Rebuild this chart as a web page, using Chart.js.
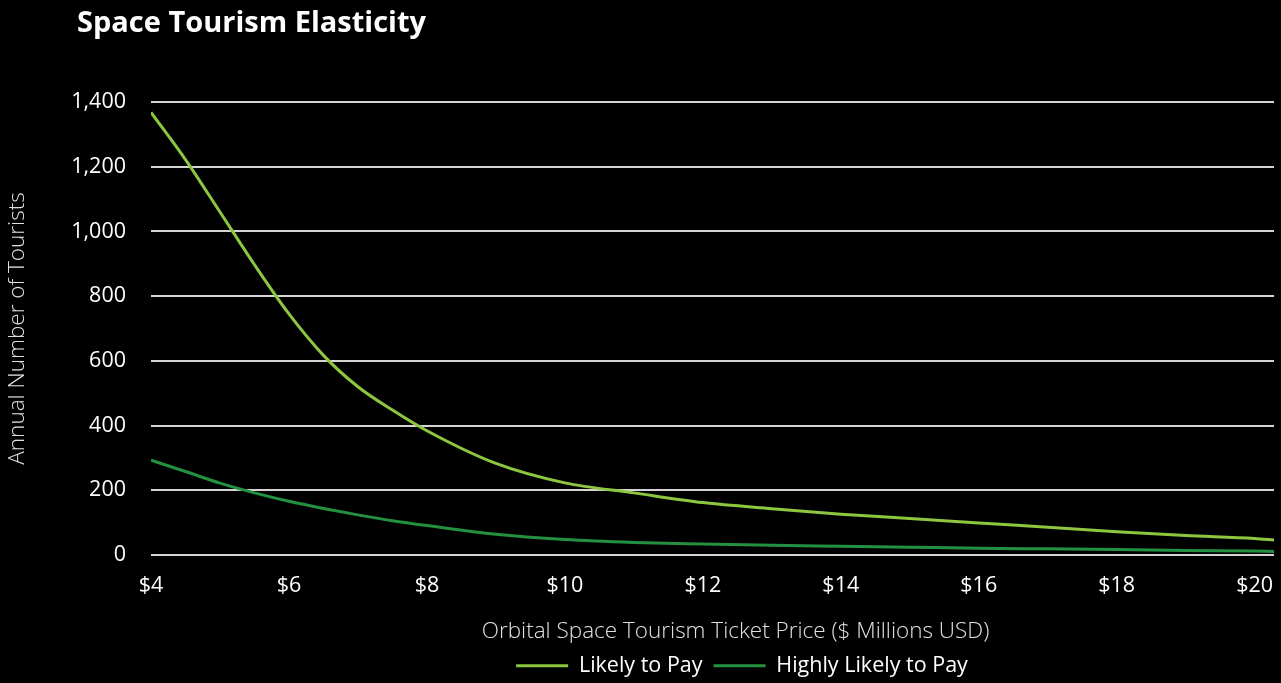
<!DOCTYPE html>
<html><head><meta charset="utf-8">
<script src="https://cdn.jsdelivr.net/npm/chart.js@4.4.1/dist/chart.umd.min.js"></script>
<style>
html,body{margin:0;padding:0;background:#000;}
#wrap{position:relative;width:1281px;height:683px;overflow:hidden;background:#000;}
#title{position:absolute;left:77px;top:1px;font-family:'Open Sans';font-weight:700;font-size:29px;line-height:40px;color:#fff;white-space:nowrap;}
canvas{position:absolute;left:0;top:0;}
</style></head><body>
<div id="wrap"><canvas id="c" width="1281" height="683"></canvas><div id="title">Space Tourism Elasticity</div></div>
<script>
const prices = [4, 4.5, 5, 5.5, 6, 6.5, 7, 7.5, 8, 9, 10, 11, 12, 13, 14, 15, 16, 17, 18, 19, 20, 20.28];
const likelyToPay = [1368, 1222, 1060, 897, 745, 617, 520, 448, 384, 283, 223, 192, 162, 143, 126, 113, 99, 86, 72, 60, 51, 46];
const highlyLikelyToPay = [293, 258, 222, 192, 166, 144, 124, 106, 91, 64, 48, 39, 34, 30, 27, 24, 21, 19, 17, 14, 12, 11];
const xTickValues = [4, 6, 8, 10, 12, 14, 16, 18, 20];
const yTickValues = [0, 200, 400, 600, 800, 1000, 1200, 1400];
const seriesNames = ['Likely to Pay', 'Highly Likely to Pay'];
const xTitle = 'Orbital Space Tourism Ticket Price ($ Millions USD)';
const yTitle = 'Annual Number of Tourists';

const colLight = '#8dc63f';
const colDark = '#23913f';

const tweaks = {
  id: 'tweaks',
  afterLayout(chart) {
    const lg = chart.legend;
    if (lg) {
      const shift = 105;
      lg.left += shift; lg.right += shift;
      const h = lg.height;
      lg.top = 644; lg.bottom = 644 + h;
    }
  },
  afterDraw(chart) {
    const ctx = chart.ctx, ca = chart.chartArea;
    ctx.save();
    ctx.font = '300 22.5px "Open Sans"';
    ctx.fillStyle = '#e0e0e0';
    ctx.textAlign = 'center';
    ctx.textBaseline = 'middle';
    ctx.fillText(xTitle, (ca.left + ca.right) / 2 + 23, 632);
    ctx.restore();
  }
};

new Chart(document.getElementById('c'), {
  type: 'line',
  data: {
    datasets: [
      { label: seriesNames[0], data: prices.map((p, i) => ({x: p, y: likelyToPay[i]})),
        borderColor: colLight, backgroundColor: colLight, borderWidth: 3, pointRadius: 0,
        cubicInterpolationMode: 'monotone', fill: false },
      { label: seriesNames[1], data: prices.map((p, i) => ({x: p, y: highlyLikelyToPay[i]})),
        borderColor: colDark, backgroundColor: colDark, borderWidth: 3, pointRadius: 0,
        cubicInterpolationMode: 'monotone', fill: false }
    ]
  },
  options: {
    responsive: false,
    animation: false,
    layout: { padding: { top: 102, right: 7, left: 0, bottom: 0 } },
    plugins: {
      title: { display: false },
      tooltip: { enabled: false },
      legend: {
        position: 'bottom',
        labels: {
          color: '#ffffff',
          font: { family: 'Open Sans', size: 21.5 },
          boxWidth: 52, boxHeight: 3, padding: 11,
          generateLabels(chart) {
            return Chart.defaults.plugins.legend.labels.generateLabels(chart).map(l => Object.assign(l, {lineWidth: 0}));
          }
        }
      }
    },
    scales: {
      x: {
        type: 'linear', min: 4, max: 20.28,
        afterBuildTicks(s) { s.ticks = xTickValues.map(v => ({value: v})); },
        afterFit(s) {
          s.height = 128 - (s.chart.legend ? s.chart.legend.height : 0);
          s.paddingLeft = 0; s.paddingRight = 0;
        },
        grid: { display: false, drawTicks: false },
        border: { display: false },
        ticks: { color: '#ffffff', font: { family: 'Open Sans', size: 21.5 }, padding: 18, maxRotation: 0,
                 callback: v => '$' + v },
        title: { display: false }
      },
      y: {
        min: 0, max: 1400,
        afterBuildTicks(s) { s.ticks = yTickValues.map(v => ({value: v})); },
        afterFit(s) { s.width = 151; s.paddingTop = 0; s.paddingBottom = 0; },
        grid: { color: '#d4d4d4', lineWidth: 2, drawTicks: false },
        border: { display: false },
        ticks: { color: '#ffffff', font: { family: 'Open Sans', size: 21.5 }, padding: 25,
                 callback: v => v.toLocaleString('en-US') },
        title: { display: true, text: yTitle, color: '#e0e0e0',
                 font: { family: 'Open Sans', size: 22.5, weight: 300 }, padding: { top: 4, bottom: 0 } }
      }
    }
  },
  plugins: [tweaks]
});
</script>
</body></html>
